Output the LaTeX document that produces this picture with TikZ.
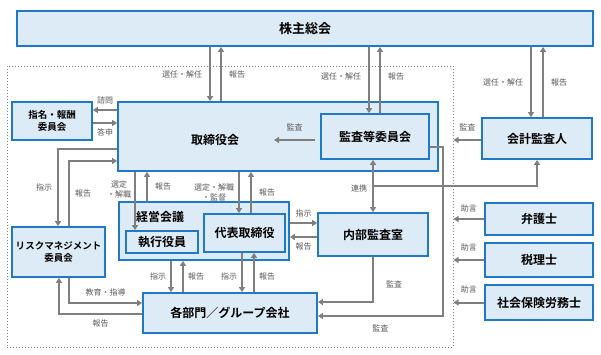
\documentclass[tikz,border=0pt]{standalone}
\usepackage{fontspec}
\setmainfont{Noto Sans CJK JP}[BoldFont={Noto Sans CJK JP Bold}]
\usetikzlibrary{arrows.meta}
\definecolor{boxblue}{HTML}{1F78C8}
\definecolor{boxfill}{HTML}{DDEBF7}
\definecolor{arrgray}{HTML}{7F7F7F}
\definecolor{lblgray}{HTML}{595959}

\begin{document}
\begin{tikzpicture}[x=1pt,y=-1pt,
  box/.style={draw=boxblue,line width=1.8pt,fill=boxfill,inner sep=0pt,font=\bfseries\fontsize{12}{14}\selectfont},
  smallbox/.style={box,align=center,font=\bfseries\fontsize{9.5}{12}\selectfont},
  arr/.style={draw=arrgray,line width=2pt,-{Triangle[length=5pt,width=6pt]}},
  lbl/.style={text=lblgray,inner sep=2pt,font=\fontsize{8}{10}\selectfont}]
\path[use as bounding box] (0,0) rectangle (601,354);
% frame of the company
\node[draw=arrgray,dotted,line width=1pt,minimum width=446pt,minimum height=281pt,inner sep=0pt] (frame) at (230,206.5) {};
% boxes
\node[box,minimum width=576pt,minimum height=35pt,font=\bfseries\fontsize{13}{15}\selectfont] (kabu) at (305,28.5) {株主総会};
\node[box,minimum width=320pt,minimum height=69pt] (tori) at (278,136.5) {};
\node[inner sep=0pt,font=\bfseries\fontsize{12}{14}\selectfont] (toriT) at (215,140) {取締役会};
\node[box,minimum width=108pt,minimum height=45pt] (kansa) at (375,136.5) {監査等委員会};
\node[smallbox,minimum width=80pt,minimum height=38pt] (shimei) at (52,121) {指名・報酬\\委員会};
\node[box,minimum width=110pt,minimum height=41pt] (kaikei) at (537,138.5) {会計監査人};
\node[smallbox,minimum width=93pt,minimum height=50pt] (risk) at (58.5,252) {リスクマネジメント\\委員会};
\node[box,minimum width=170pt,minimum height=58pt] (keiei) at (204,231) {};
\node[inner sep=0pt,font=\bfseries\fontsize{12}{14}\selectfont] (keieiT) at (160,217) {経営会議};
\node[box,minimum width=72pt,minimum height=22pt] (shikko) at (162,242) {執行役員};
\node[box,minimum width=81pt,minimum height=38pt] (daihyo) at (244.5,233) {代表取締役};
\node[box,minimum width=110pt,minimum height=43pt] (naibu) at (373,234.5) {内部監査室};
\node[box,minimum width=174pt,minimum height=40pt] (kakubu) at (230,313) {各部門／グループ会社};
\node[box,minimum width=108pt,minimum height=32pt] (bengo) at (539,219) {弁護士};
\node[box,minimum width=108pt,minimum height=34pt] (zeiri) at (539,260) {税理士};
\node[box,minimum width=108pt,minimum height=35pt] (sharo) at (539,302.5) {社会保険労務士};
% general meeting
\draw[arr] (210,0 |- kabu.south) -- node[lbl,left=5pt] {選任・解任} (210,0 |- tori.north);
\draw[arr] (221,0 |- tori.north) -- node[lbl,right=5pt] {報告} (221,0 |- kabu.south);
\draw[arr] (369,0 |- kabu.south) -- node[lbl,left=5pt,pos=.45] {選任・解任} (369,0 |- kansa.north);
\draw[arr] (380,0 |- kansa.north) -- node[lbl,right=5pt,pos=.55] {報告} (380,0 |- kabu.south);
\draw[arr] (531,0 |- kabu.south) -- node[lbl,left=5pt] {選任・解任} (531,0 |- kaikei.north);
\draw[arr] (543,0 |- kaikei.north) -- node[lbl,right=5pt] {報告} (543,0 |- kabu.south);
% audit
\draw[arr] ([xshift=-5pt]kansa.west |- 0,140) -- node[lbl,above=6pt] {監査} (274,140);
\draw[arr] (kaikei.west |- 0,140) -- node[lbl,above=6pt] {監査} (frame.east |- 0,140);
\draw[arr] (tori.west |- 0,110) -- node[lbl,above=3pt] {諮問} (shimei.east |- 0,110);
\draw[arr] (shimei.east |- 0,123) -- node[lbl,below=3pt] {答申} (tori.west |- 0,123);
% risk management
\draw[arr] (tori.west |- 0,149) -| node[lbl,pos=.75,left=3pt] {指示} (58,0 |- risk.north);
\draw[arr] (69,0 |- risk.north) |- node[lbl,pos=.25,right=3pt] {報告} (tori.west |- 0,161);
\draw[arr] (69,0 |- risk.south) |- node[lbl,pos=.75,above=4pt] {教育・指導} (kakubu.west |- 0,303);
\draw[arr] (kakubu.west |- 0,314) -| node[lbl,pos=.25,below=3pt] {報告} (59,0 |- risk.south);
% executives
\draw[arr] (135,0 |- tori.south) -- node[lbl,left=1pt,align=center,pos=.3] {選定\\・解職} (135,0 |- shikko.north);
\draw[arr] (147,0 |- keiei.north) -- node[lbl,right=5pt] {報告} (147,0 |- tori.south);
\draw[arr] (239,0 |- tori.south) -- node[lbl,left=2pt,align=center] {選定・解職\\・監督} (239,0 |- daihyo.north);
\draw[arr] (251,0 |- daihyo.north) -- node[lbl,right=5pt] {報告} (251,0 |- tori.south);
\draw[arr] (keiei.east |- 0,223) -- node[lbl,above=3pt] {指示} (naibu.west |- 0,223);
\draw[arr] (naibu.west |- 0,237) -- node[lbl,below=3pt] {報告} (keiei.east |- 0,237);
\draw[arr] (171,0 |- keiei.south) -- node[lbl,left=2pt] {指示} (171,0 |- kakubu.north);
\draw[arr] (183,0 |- kakubu.north) -- node[lbl,right=2pt] {報告} (183,0 |- keiei.south);
\draw[arr] (242,0 |- daihyo.south) -- node[lbl,left=2pt,pos=.6] {指示} (242,0 |- kakubu.north);
\draw[arr] (254,0 |- kakubu.north) -- node[lbl,right=2pt,pos=.4] {報告} (254,0 |- daihyo.south);
% internal audit
\draw[arr,{Triangle[length=5pt,width=6pt]}-{Triangle[length=5pt,width=6pt]}] (373,0 |- kansa.south) -- node[lbl,left=3pt,pos=.55] {連携} (373,0 |- naibu.north);
\coordinate (renkei) at (373,186);
\draw[arr] (renkei) -| (kaikei.south);
\draw[arr] (kansa.east |- 0,147) -| (443,316) -- node[lbl,below=6pt] {監査} (kakubu.east |- 0,316);
\draw[arr] (naibu.south) |- node[lbl,pos=.3,right=10pt] {監査} (kakubu.east |- 0,302);
% advisers
\draw[arr] (bengo.west) -- node[lbl,above=4pt] {助言} (frame.east |- bengo.west);
\draw[arr] (zeiri.west) -- node[lbl,above=6pt] {助言} (frame.east |- zeiri.west);
\draw[arr] (sharo.west) -- node[lbl,above=6pt] {助言} (frame.east |- sharo.west);
\end{tikzpicture}
\end{document}
